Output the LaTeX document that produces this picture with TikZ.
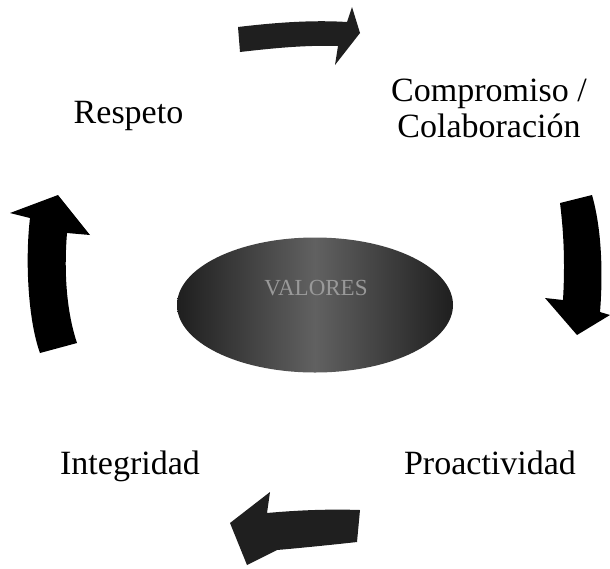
\documentclass[tikz,border=0pt]{standalone}
\usepackage{fontspec}
\setmainfont{Liberation Serif}
\usetikzlibrary{shapes.geometric}
\begin{document}
\begin{tikzpicture}[x=1pt,y=-1pt,
  lbl/.style={font=\fontsize{34}{36}\selectfont, inner sep=0pt, anchor=base},
  darr/.style={fill=black, draw=none},
  tarr/.style={fill=black!88, draw=none}]
\useasboundingbox (0,0) rectangle (610,568);
% centre ellipse
\node[shape=ellipse, minimum width=276pt, minimum height=135pt, inner sep=0pt,
      left color=black!88, right color=black!88, middle color=black!62, shading angle=90] (valores) at (315,305) {};
\node[font=\fontsize{23}{23}\selectfont, text=black!40, inner sep=0pt] (vtxt) at (316,288) {VALORES};
% labels
\node[lbl] (respeto) at (128.5,123) {Respeto};
\node[lbl, align=center, anchor=north] (comp) at (489,79) {Compromiso /\\Colaboración};
\node[lbl] (integ) at (130,474) {Integridad};
\node[lbl] (proac) at (490,474) {Proactividad};
% top arrow (pointing right)
\fill[tarr] (238,27) .. controls (280,22) and (315,20) .. (347,22) -- (352,7) -- (360,33) -- (335,65)
  -- (338,46) .. controls (305,45) and (275,48) .. (240,52) -- cycle;
% right arrow (pointing down)
\fill[darr] (560,203) -- (592,195) .. controls (602,230) and (603,275) .. (600,312) -- (610,315)
  -- (577,335) -- (545,298) -- (563,300) .. controls (565,265) and (564,235) .. cycle;
% bottom arrow (pointing left)
\fill[tarr] (360,510) -- (357,542) .. controls (330,545) and (300,548) .. (277,550) -- (247,565)
  -- (230,523) -- (270,492) -- (267,513) .. controls (300,510) and (330,509) .. cycle;
% left arrow (pointing up)
\fill[darr] (40,353) .. controls (28,320) and (25,260) .. (30,218) -- (10,213) -- (58,195)
  -- (90,235) -- (67,233) .. controls (64,270) and (66,310) .. (77,343) -- cycle;
\end{tikzpicture}
\end{document}
